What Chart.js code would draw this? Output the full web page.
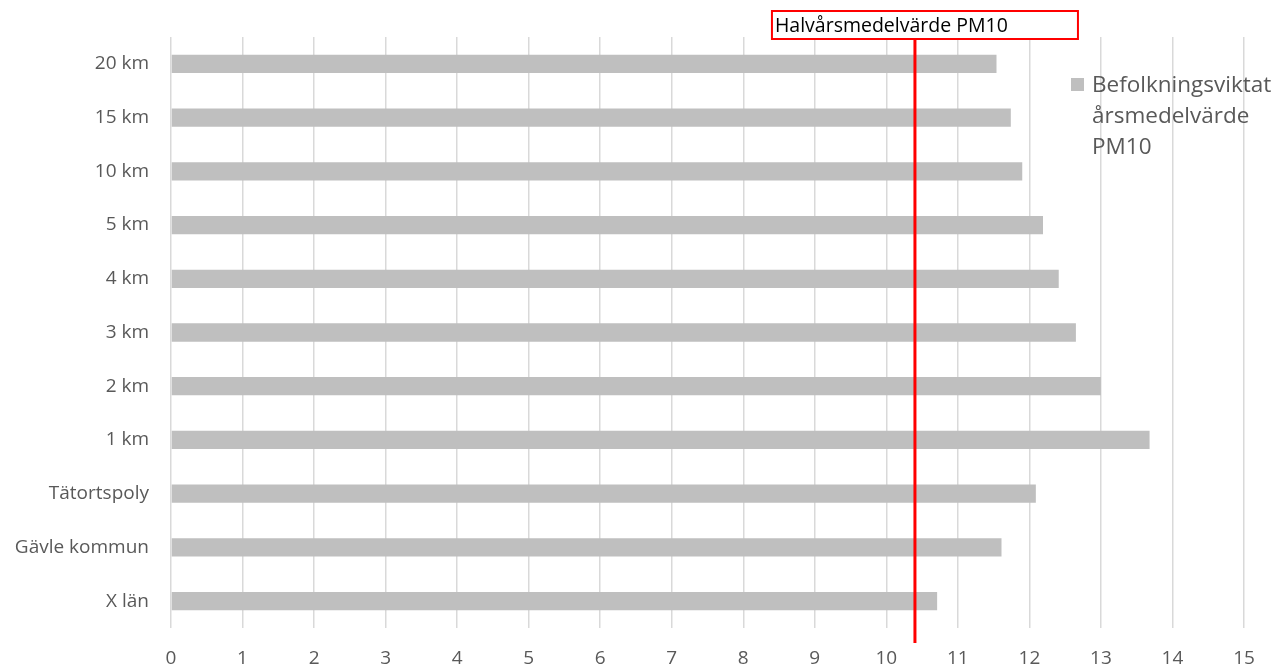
<!DOCTYPE html>
<html>
<head>
<meta charset="utf-8">
<script src="https://cdn.jsdelivr.net/npm/chart.js@4"></script>
<style>
  html, body { margin: 0; padding: 0; background: #fff; }
  #wrap { width: 1278px; height: 668px; }
</style>
</head>
<body>
<div id="wrap"><canvas id="chart" width="1278" height="668"></canvas></div>
<script>
const labels = ['20 km', '15 km', '10 km', '5 km', '4 km', '3 km', '2 km', '1 km', 'Tätortspoly', 'Gävle kommun', 'X län'];
const pm10 = [11.54, 11.74, 11.9, 12.19, 12.41, 12.65, 13.0, 13.68, 12.09, 11.61, 10.71];
const seriesName = 'Befolkningsviktat årsmedelvärde PM10';
const legendLines = ['Befolkningsviktat', 'årsmedelvärde', 'PM10'];
const limitValue = 10.4;
const limitLabel = 'Halvårsmedelvärde PM10';

const FONT = '"Open Sans", "Noto Sans", sans-serif';
const GREY_TEXT = '#595959';

// vertical reference line with its boxed caption, plus the side legend
const overlay = {
  id: 'overlay',
  afterDatasetsDraw(chart) {
    const { ctx, chartArea, scales } = chart;
    const x = scales.x.getPixelForValue(limitValue);

    ctx.save();
    ctx.font = '19.5px ' + FONT;
    const tw = ctx.measureText(limitLabel).width;
    const boxL = x - 143, boxT = 11, boxH = 28, boxW = Math.max(tw + 10, 306);

    ctx.strokeStyle = '#ff0000';
    ctx.lineWidth = 3;
    ctx.beginPath();
    ctx.moveTo(x, boxT + boxH);
    ctx.lineTo(x, chartArea.bottom + 15);
    ctx.stroke();

    ctx.fillStyle = '#fff';
    ctx.fillRect(boxL, boxT, boxW, boxH);
    ctx.lineWidth = 2;
    ctx.strokeRect(boxL, boxT, boxW, boxH);
    ctx.fillStyle = '#000';
    ctx.textBaseline = 'middle';
    ctx.textAlign = 'left';
    ctx.fillText(limitLabel, boxL + 3, boxT + boxH / 2 + 1);

    // legend
    const ds = chart.data.datasets[0];
    ctx.fillStyle = ds.backgroundColor;
    ctx.fillRect(1071, 78, 13, 13);
    ctx.fillStyle = GREY_TEXT;
    ctx.font = '22.5px ' + FONT;
    legendLines.forEach((t, i) => ctx.fillText(t, 1092, 86 + i * 31));
    ctx.restore();
  }
};

new Chart(document.getElementById('chart'), {
  type: 'bar',
  data: {
    labels: labels,
    datasets: [{
      label: seriesName,
      data: pm10,
      backgroundColor: '#bfbfbf',
      categoryPercentage: 1,
      barPercentage: 0.34
    }]
  },
  options: {
    indexAxis: 'y',
    responsive: false,
    animation: false,
    layout: { padding: { left: 0, right: 34, top: 37, bottom: 0 } },
    plugins: {
      legend: { display: false },
      tooltip: { enabled: false }
    },
    scales: {
      x: {
        min: 0,
        max: 15,
        ticks: {
          stepSize: 1,
          color: GREY_TEXT,
          font: { family: FONT, size: 19 },
          padding: 19
        },
        grid: { color: '#d9d9d9', lineWidth: 1.5, drawTicks: false },
        border: { display: false },
        afterFit(scale) { scale.height = 40; }
      },
      y: {
        ticks: {
          color: GREY_TEXT,
          font: { family: FONT, size: 19 },
          padding: 22
        },
        grid: { display: false, drawTicks: false },
        border: { display: false },
        afterFit(scale) { scale.width = 171; }
      }
    }
  },
  plugins: [overlay]
});
</script>
</body>
</html>
